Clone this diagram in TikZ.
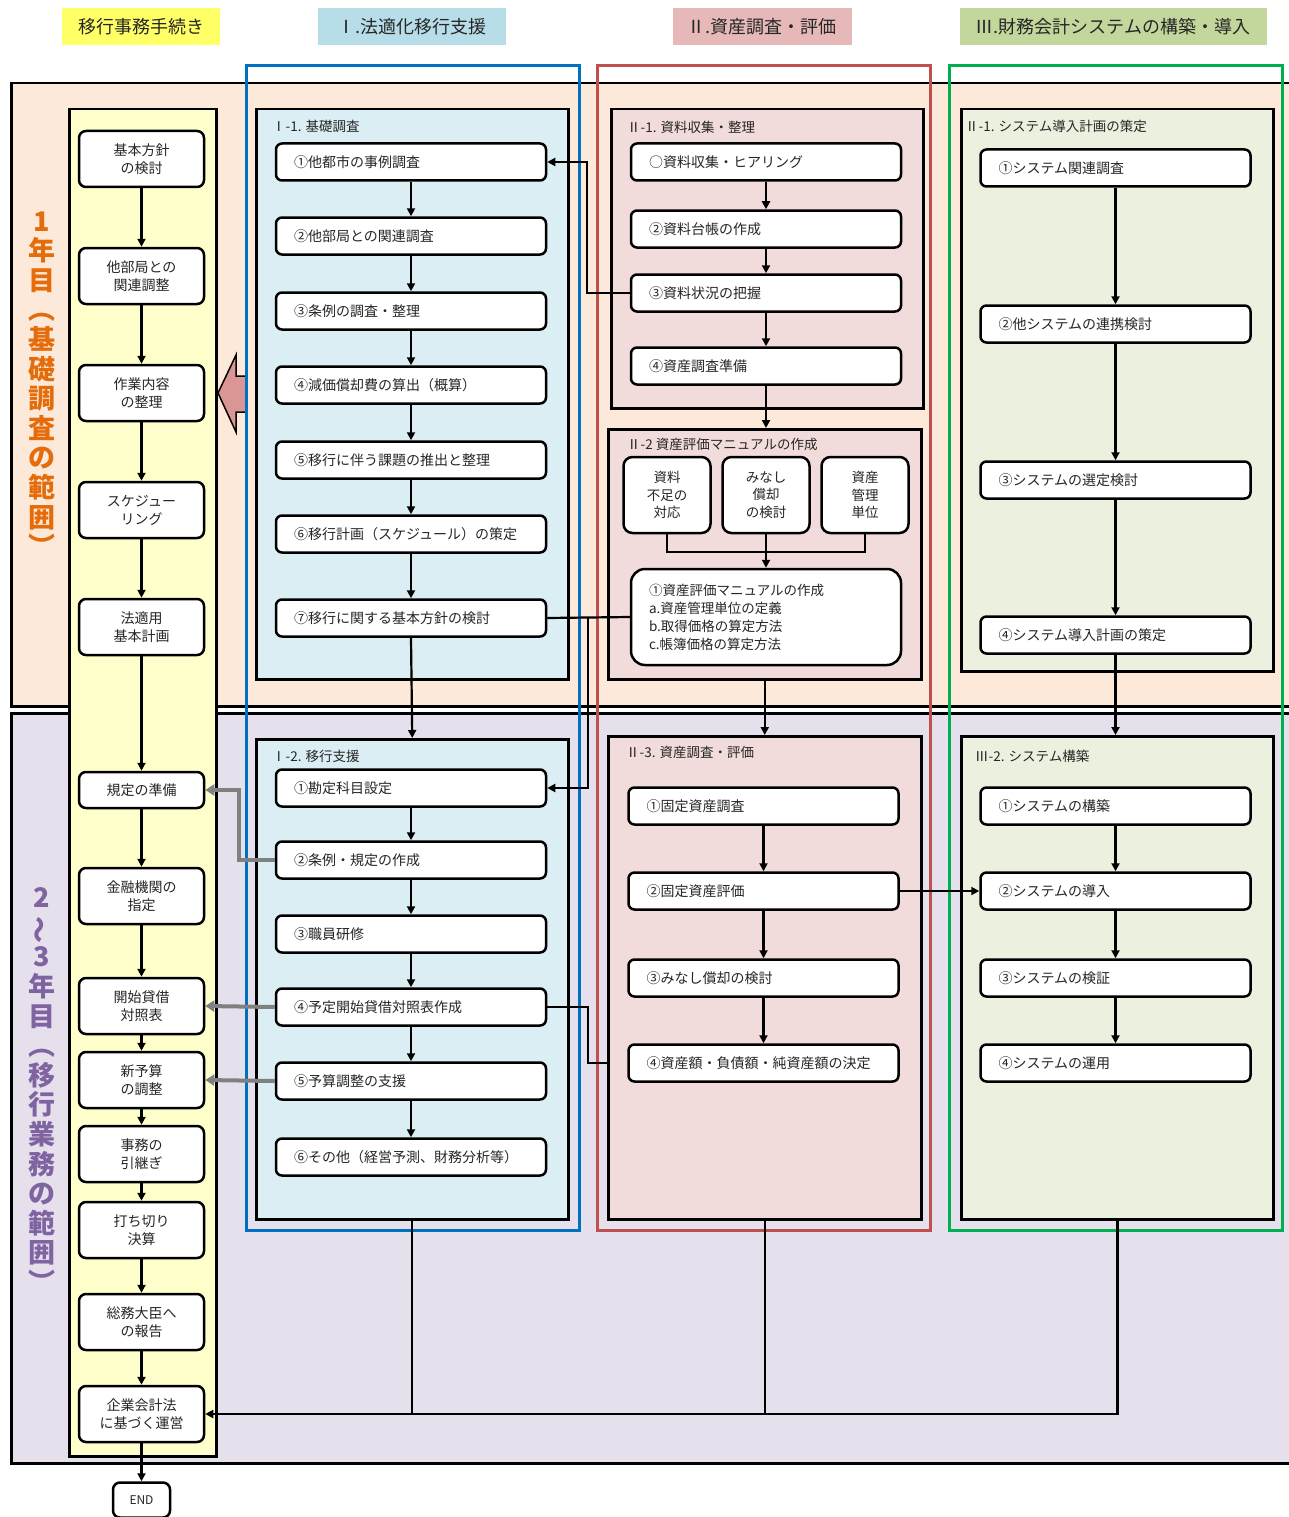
\documentclass[tikz,border=0pt]{standalone}
\usepackage{fontspec}
\setmainfont{Noto Sans CJK JP}
\usetikzlibrary{arrows.meta,positioning,calc}

\definecolor{peach}{HTML}{FDE9D9}
\definecolor{lavender}{HTML}{E5E0EC}
\definecolor{paleyellow}{HTML}{FFFFCC}
\definecolor{secblue}{HTML}{DAEEF3}
\definecolor{secpink}{HTML}{F2DCDB}
\definecolor{secgreen}{HTML}{EBF1DE}
\definecolor{headyellow}{HTML}{FFFF66}
\definecolor{headblue}{HTML}{B7DEE8}
\definecolor{headpink}{HTML}{E6B9B8}
\definecolor{headgreen}{HTML}{C3D69B}
\definecolor{frameblue}{HTML}{0070C0}
\definecolor{framered}{HTML}{C0504D}
\definecolor{framegreen}{HTML}{00B050}
\definecolor{yearorange}{HTML}{E46C0A}
\definecolor{yearpurple}{HTML}{8064A2}
\definecolor{blockpink}{HTML}{D99694}

\begin{document}
\begin{tikzpicture}[x=1pt,y=-1pt,
  every node/.style={font=\fontsize{14}{18}\selectfont,text=black!85},
  band/.style={draw,line width=2.5pt,inner sep=0pt,anchor=north west},
  secbox/.style={draw,line width=2.5pt,inner sep=0pt,anchor=north west},
  frame/.style={line width=2.8pt,inner sep=0pt,anchor=north west},
  head/.style={inner sep=0pt,minimum height=37pt,font=\fontsize{18}{21}\selectfont},
  sectitle/.style={anchor=west,inner sep=0pt,font=\fontsize{13.5}{16}\selectfont},
  kbox/.style={draw,line width=2.5pt,rounded corners=7pt,fill=white,
    minimum width=125pt,minimum height=56pt,align=center,inner sep=2pt},
  wbox/.style={draw,line width=2.5pt,rounded corners=6pt,fill=white,
    minimum height=37pt,text width=234pt,inner xsep=18pt,align=left},
  minibox/.style={draw,line width=2.5pt,rounded corners=9pt,fill=white,
    minimum width=87pt,minimum height=76pt,align=center,inner sep=1pt,
    font=\fontsize{13.5}{17.5}\selectfont},
  ln/.style={line width=2.2pt},
  arr/.style={line width=2.2pt,-{Triangle[length=8pt,width=8pt]}},
  garr/.style={line width=4pt,draw=gray,-{Triangle[length=9pt,width=11pt]}},
  yeartext/.style={inner sep=0pt,align=center,font=\fontsize{27}{29.6}\selectfont\bfseries}
]
\useasboundingbox (0,0) rectangle (1288,1517);

% year bands
\node[band,fill=peach,minimum width=1285pt,minimum height=623pt] (yr1) at (10,82) {};
\node[band,fill=lavender,minimum width=1285pt,minimum height=750pt] (yr2) at (10,712) {};
\node[band,fill=paleyellow,minimum width=147pt,minimum height=1347pt] (proc) at (68,108) {};

% block arrow
\draw[line width=1.5pt,fill=blockpink] (218,393) -- (236,355) -- (236,376) -- (247,376)
  -- (247,412) -- (236,412) -- (236,432) -- cycle;

% sections
\node[secbox,fill=secblue,minimum width=312pt,minimum height=570pt] (S11) at (255,108) {};
\node[secbox,fill=secblue,minimum width=312pt,minimum height=480pt] (S12) at (255,738) {};
\node[secbox,fill=secpink,minimum width=312pt,minimum height=299pt] (S21) at (610,108) {};
\node[secbox,fill=secpink,minimum width=313pt,minimum height=250pt] (S22) at (607,428) {};
\node[secbox,fill=secpink,minimum width=313pt,minimum height=483pt] (S23) at (607,735) {};
\node[secbox,fill=secgreen,minimum width=312pt,minimum height=562pt] (S31) at (960,108) {};
\node[secbox,fill=secgreen,minimum width=312pt,minimum height=483pt] (S32) at (960,735) {};

% colored frames
\node[frame,draw=frameblue,minimum width=333pt,minimum height=1165pt] (F1) at (245,64) {};
\node[frame,draw=framered,minimum width=333pt,minimum height=1165pt] (F2) at (596,64) {};
\node[frame,draw=framegreen,minimum width=333pt,minimum height=1165pt] (F3) at (948,64) {};

% headers
\node[head,fill=headyellow,minimum width=158pt] (h0) at (141,27) {移行事務手続き};
\node[head,fill=headblue,minimum width=188pt] (h1) at (412,27) {Ⅰ.法適化移行支援};
\node[head,fill=headpink,minimum width=179pt] (h2) at (762,27) {Ⅱ.資産調査・評価};
\node[head,fill=headgreen,minimum width=307pt] (h3) at (1113,27) {Ⅲ.財務会計システムの構築・導入};

% year labels
\node[yeartext,text=yearorange] (y1) at (42,384)
  {1\\年\\目\\︵\\基\\礎\\調\\査\\の\\範\\囲\\︶};
\node[yeartext,text=yearpurple] (y2) at (42,1090)
  {2\\\rotatebox[origin=c]{90}{〜}\\3\\年\\目\\︵\\移\\行\\業\\務\\の\\範\\囲\\︶};

% section titles
\node[sectitle] (t11) at (272,126) {Ⅰ-1. 基礎調査};
\node[sectitle] (t12) at (272,756) {Ⅰ-2. 移行支援};
\node[sectitle] (t21) at (627,127) {Ⅱ-1. 資料収集・整理};
\node[sectitle] (t22) at (627,444) {Ⅱ-2 資産評価マニュアルの作成};
\node[sectitle] (t23) at (626,752) {Ⅱ-3. 資産調査・評価};
\node[sectitle] (t31) at (965,126) {Ⅱ-1. システム導入計画の策定};
\node[sectitle] (t32) at (975,756) {Ⅲ-2. システム構築};

% procedure column
\node[kbox] (k1) at (141.5,159) {基本方針\\の検討};
\node[kbox] (k2) at (141.5,276) {他部局との\\関連調整};
\node[kbox] (k3) at (141.5,393) {作業内容\\の整理};
\node[kbox] (k4) at (141.5,510) {スケジュー\\リング};
\node[kbox] (k5) at (141.5,627) {法適用\\基本計画};
\node[kbox,minimum height=36pt] (k6) at (141.5,790) {規定の準備};
\node[kbox] (k7) at (141.5,896) {金融機関の\\指定};
\node[kbox] (k8) at (141.5,1006) {開始貸借\\対照表};
\node[kbox] (k9) at (141.5,1080) {新予算\\の調整};
\node[kbox] (k10) at (141.5,1154) {事務の\\引継ぎ};
\node[kbox] (k11) at (141.5,1230) {打ち切り\\決算};
\node[kbox] (k12) at (141.5,1322) {総務大臣へ\\の報告};
\node[kbox] (k13) at (141.5,1414) {企業会計法\\に基づく運営};
\node[kbox,minimum width=57pt,minimum height=35pt,font=\fontsize{12}{14}\selectfont] (kend) at (141.5,1500) {END};
\foreach \i [evaluate=\i as \j using int(\i+1)] in {1,...,12}
  \draw[arr] (k\i.south) -- (k\j.north);
\draw[arr] (k13.south) -- (kend.north);

% I-1
\node[wbox] (a1) at (411,162) {①他都市の事例調査};
\node[wbox] (a2) at (411,236) {②他部局との関連調査};
\node[wbox] (a3) at (411,311) {③条例の調査・整理};
\node[wbox] (a4) at (411,385) {④減価償却費の算出（概算）};
\node[wbox] (a5) at (411,460) {⑤移行に伴う課題の推出と整理};
\node[wbox] (a6) at (411,534) {⑥移行計画（スケジュール）の策定};
\node[wbox] (a7) at (411,618) {⑦移行に関する基本方針の検討};
\foreach \i [evaluate=\i as \j using int(\i+1)] in {1,...,6}
  \draw[arr] (a\i.south) -- (a\j.north);

% I-2
\node[wbox] (b1) at (411,788) {①勘定科目設定};
\node[wbox] (b2) at (411,860) {②条例・規定の作成};
\node[wbox] (b3) at (411,934) {③職員研修};
\node[wbox] (b4) at (411,1007) {④予定開始貸借対照表作成};
\node[wbox] (b5) at (411,1081) {⑤予算調整の支援};
\node[wbox] (b6) at (411,1157) {⑥その他（経営予測、財務分析等）};
\foreach \i [evaluate=\i as \j using int(\i+1)] in {1,...,5}
  \draw[arr] (b\i.south) -- (b\j.north);
\draw[arr] (a7.south) -- (S12.north);

% II-1
\node[wbox] (c1) at (766,162) {○資料収集・ヒアリング};
\node[wbox] (c2) at (766,229) {②資料台帳の作成};
\node[wbox] (c3) at (766,293) {③資料状況の把握};
\node[wbox] (c4) at (766,366) {④資産調査準備};
\foreach \i [evaluate=\i as \j using int(\i+1)] in {1,...,3}
  \draw[arr] (c\i.south) -- (c\j.north);
\draw[arr] (c4.south) -- (c4.south |- S22.north);

% II-2
\node[minibox] (d1) at (667,495) {資料\\不足の\\対応};
\node[minibox] (d2) at (766,495) {みなし\\償却\\の検討};
\node[minibox] (d3) at (865,495) {資産\\管理\\単位};
\node[wbox,minimum height=96pt,rounded corners=14pt,font=\fontsize{13.5}{18}\selectfont] (d4) at (766,617)
  {①資産評価マニュアルの作成\\a.資産管理単位の定義\\b.取得価格の算定方法\\c.帳簿価格の算定方法};
\draw[ln] (d1.south) -- ++(0,18) -| (d3.south);
\draw[arr] (d2.south) -- (d4.north);
\draw[arr] (S22.south) -- (S23.north);

% II-3
\node[wbox] (e1) at (763.5,806) {①固定資産調査};
\node[wbox] (e2) at (763.5,891) {②固定資産評価};
\node[wbox] (e3) at (763.5,978) {③みなし償却の検討};
\node[wbox] (e4) at (763.5,1063) {④資産額・負債額・純資産額の決定};
\foreach \i [evaluate=\i as \j using int(\i+1)] in {1,...,3}
  \draw[arr] (e\i.south) -- (e\j.north);

% III-1
\node[wbox] (f1) at (1115.5,168) {①システム関連調査};
\node[wbox] (f2) at (1115.5,324) {②他システムの連携検討};
\node[wbox] (f3) at (1115.5,480) {③システムの選定検討};
\node[wbox] (f4) at (1115.5,635) {④システム導入計画の策定};
\foreach \i [evaluate=\i as \j using int(\i+1)] in {1,...,3}
  \draw[arr] (f\i.south) -- (f\j.north);
\draw[arr] (f4.south) -- (f4.south |- S32.north);

% III-2
\node[wbox] (g1) at (1115.5,806) {①システムの構築};
\node[wbox] (g2) at (1115.5,891) {②システムの導入};
\node[wbox] (g3) at (1115.5,978) {③システムの検証};
\node[wbox] (g4) at (1115.5,1063) {④システムの運用};
\foreach \i [evaluate=\i as \j using int(\i+1)] in {1,...,3}
  \draw[arr] (g\i.south) -- (g\j.north);

% cross links
\draw[arr] (c3.west) -- ++(-43,0) |- (a1.east);
\draw[ln] (a7.east) -- (d4.west);
\coordinate (jb) at ($(a7.east)+(41,0)$);
\draw[arr] (jb) |- (b1.east);
\draw[ln] (b4.east) -- ++(41,0) |- (e4.west -| S23.west);
\draw[arr] (e2.east) -- (g2.west);
\draw[garr] (b2.west) -- ++(-36,0) |- (k6.east);
\draw[garr] (b4.west) -- (k8.east);
\draw[garr] (b5.west) -- (k9.east);

% to operation
\draw[ln] (S12.south) -- (S12.south |- k13.east);
\draw[ln] (S23.south) -- (S23.south |- k13.east);
\draw[arr,line width=2.6pt] (S32.south) |- (k13.east);
\end{tikzpicture}
\end{document}
